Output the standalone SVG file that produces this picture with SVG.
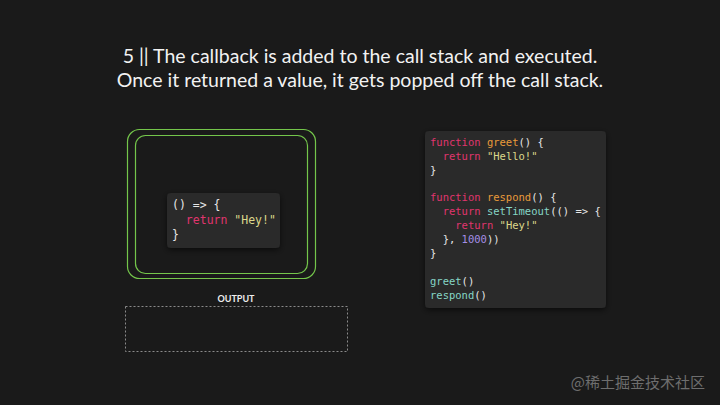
<svg xmlns="http://www.w3.org/2000/svg" width="720" height="405" viewBox="0 0 720 405">
<defs>
<style>
.title{font-family:Lato,"Noto Sans",sans-serif;font-size:19.5px;fill:#f2f2f2;text-anchor:middle}
.code{font-family:"DejaVu Sans Mono",monospace;font-size:10.5px;fill:#e6e6e6;white-space:pre}
.code2{font-family:"DejaVu Sans Mono",monospace;font-size:11.5px;fill:#e6e6e6;white-space:pre}
.kw{fill:#e0356e}
.fn{fill:#e99b3a}
.str{fill:#dcd88a}
.call{fill:#86d6c6}
.num{fill:#a58ee6}
.stack{fill:none;stroke:#74c64b;stroke-width:1.2}
.panel{fill:#2a2a2a}
</style>
<filter id="sh" x="-20%" y="-20%" width="140%" height="140%">
<feDropShadow dx="0" dy="2" stdDeviation="3" flood-color="#000" flood-opacity="0.6"/>
</filter>
</defs>
<rect width="720" height="405" fill="#1a1a1a"/>
<text class="title" x="360" y="63">5 || The callback is added to the call stack and executed.</text>
<text class="title" x="360" y="87">Once it returned a value, it gets popped off the call stack.</text>
<g id="callstack">
<rect class="stack" x="127.5" y="129.5" width="188" height="149" rx="12"/>
<rect class="stack" x="135.5" y="135.5" width="172" height="138" rx="10"/>
</g>
<g id="callback">
<rect class="panel" x="167" y="193" width="113" height="55" rx="4" filter="url(#sh)"/>
<text class="code2" x="172" y="209">() =&gt; {</text>
<text class="code2" x="172" y="224">  <tspan class="kw">return</tspan> <tspan class="str">"Hey!"</tspan></text>
<text class="code2" x="172" y="239">}</text>
</g>
<g id="output">
<text x="236" y="302" font-family="Lato,'Noto Sans',sans-serif" font-size="9" font-weight="bold" fill="#eeeeee" text-anchor="middle">OUTPUT</text>
<rect x="125.5" y="306.5" width="222" height="45" fill="none" stroke="#8a8a8a" stroke-width="1" stroke-dasharray="2,2"/>
</g>
<g id="code">
<rect class="panel" x="425" y="131" width="181" height="177" rx="4" filter="url(#sh)"/>
<text class="code" x="430" y="146"><tspan class="kw">function</tspan> <tspan class="fn">greet</tspan>() {</text>
<text class="code" x="430" y="160">  <tspan class="kw">return</tspan> <tspan class="str">"Hello!"</tspan></text>
<text class="code" x="430" y="174">}</text>
<text class="code" x="430" y="201"><tspan class="kw">function</tspan> <tspan class="fn">respond</tspan>() {</text>
<text class="code" x="430" y="215">  <tspan class="kw">return</tspan> <tspan class="call">setTimeout</tspan>(() =&gt; {</text>
<text class="code" x="430" y="229">    <tspan class="kw">return</tspan> <tspan class="str">"Hey!"</tspan></text>
<text class="code" x="430" y="243">  }, <tspan class="num">1000</tspan>))</text>
<text class="code" x="430" y="257">}</text>
<text class="code" x="430" y="285"><tspan class="call">greet</tspan>()</text>
<text class="code" x="430" y="299"><tspan class="call">respond</tspan>()</text>
</g>
<text x="705" y="388" font-family="'Noto Sans CJK SC',sans-serif" font-size="15" fill="#6e6e6e" text-anchor="end">@稀土掘金技术社区</text>
</svg>
